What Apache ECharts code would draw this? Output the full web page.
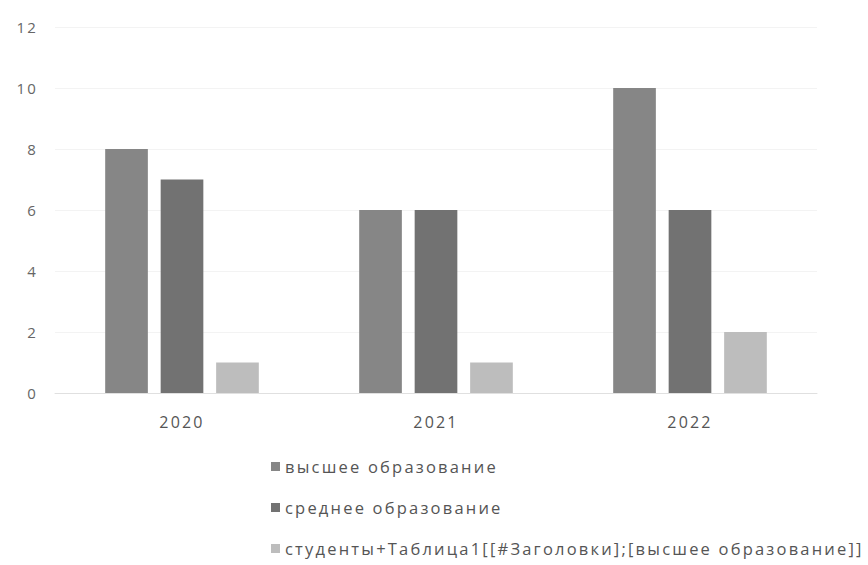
<!DOCTYPE html>
<html><head><meta charset="utf-8">
<script src="https://cdn.jsdelivr.net/npm/echarts@6/dist/echarts.min.js"></script>
<style>html,body{margin:0;padding:0;background:#fff}#c{width:868px;height:565px}
#c svg text{letter-spacing:2.2px}</style>
</head><body><div id="c"></div>
<script>
const categories = ['2020', '2021', '2022'];
const seriesNames = ['высшее образование', 'среднее образование', 'студенты+Таблица1[[#Заголовки];[высшее образование]]'];
const higherEd = [8, 6, 10];
const secondaryEd = [7, 6, 6];
const students = [1, 1, 2];
const yTicks = [0, 2, 4, 6, 8, 10, 12];

const colors = ['#868686', '#727272', '#bdbdbd'];
const font = 'Open Sans, Liberation Sans, sans-serif';
const chart = echarts.init(document.getElementById('c'), null, {renderer: 'svg'});
chart.setOption({
  animation: false,
  color: colors,
  grid: {left: 55, right: 51, top: 27, bottom: 172},
  legend: {
    orient: 'vertical', left: 266, top: 453, itemGap: 24,
    itemWidth: 9, itemHeight: 9, icon: 'rect',
    textStyle: {color: '#555', fontSize: 16.5, fontFamily: font}
  },
  xAxis: {
    type: 'category', data: categories,
    axisLine: {lineStyle: {color: '#e0e0e0'}}, axisTick: {show: false},
    axisLabel: {color: '#555', fontSize: 16, fontFamily: font, margin: 21}
  },
  yAxis: {
    type: 'value', min: yTicks[0], max: yTicks[yTicks.length - 1], interval: 2,
    axisLine: {show: false}, axisTick: {show: false},
    splitLine: {lineStyle: {color: '#f3f3f3'}},
    axisLabel: {color: '#666', fontSize: 15, fontFamily: font, margin: 17}
  },
  series: [
    {name: seriesNames[0], type: 'bar', data: higherEd, barWidth: '16.8%', barGap: '30%'},
    {name: seriesNames[1], type: 'bar', data: secondaryEd, barWidth: '16.8%', barGap: '30%'},
    {name: seriesNames[2], type: 'bar', data: students, barWidth: '16.8%', barGap: '30%'}
  ]
});
</script></body></html>
